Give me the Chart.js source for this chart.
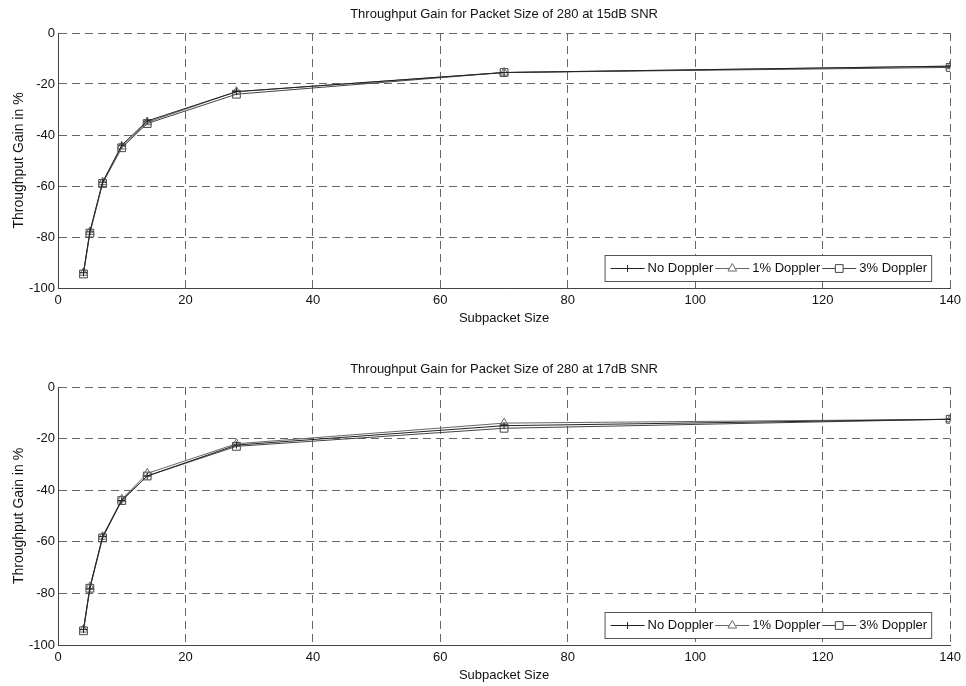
<!DOCTYPE html>
<html>
<head>
<meta charset="utf-8">
<title>Throughput Gain</title>
<script src="https://cdn.jsdelivr.net/npm/chart.js@4.4.1/dist/chart.umd.min.js"></script>
<style>
  body { margin: 0; background: #fff; }
  .panel { position: absolute; left: 0; width: 966px; height: 343px; }
  #top { top: 0; }
  #bottom { top: 343px; }
</style>
</head>
<body>
<div class="panel" id="top"><canvas id="chart15"></canvas></div>
<div class="panel" id="bottom"><canvas id="chart17"></canvas></div>
<script>
const subpacketSizes = [4, 5, 7, 10, 14, 28, 70, 140];
const xTicks = [0, 20, 40, 60, 80, 100, 120, 140];
const yTicks = [-100, -80, -60, -40, -20, 0];

// 15dB SNR
const noDoppler15 = [-94, -78, -58.5, -44, -34.5, -23, -15.5, -13];
const doppler1_15 = [-94, -78, -58.5, -44.5, -35, -23, -15.5, -13];
const doppler3_15 = [-94.5, -78.5, -59, -45, -35.5, -24, -15.5, -13.5];

// 17dB SNR
const noDoppler17 = [-94, -78, -58, -44, -34.5, -22.5, -15, -12.5];
const doppler1_17 = [-94, -77.5, -58, -43.5, -33.5, -22, -14, -12.5];
const doppler3_17 = [-94.5, -78, -58.5, -44, -34.5, -23, -16, -12.5];

const seriesLabels = ["No Doppler", "1% Doppler", "3% Doppler"];

const FONT = "'Liberation Sans', Arial, sans-serif";

function pts(ys) {
    return subpacketSizes.map((x, i) => ({ x: x, y: ys[i] }));
}

// legend box drawn inside the plot, lower right
const boxLegend = {
    id: "boxLegend",
    afterDraw(chart) {
        const ctx = chart.ctx;
        const area = chart.chartArea;
        const sets = chart.data.datasets;
        ctx.save();
        ctx.font = "13px " + FONT;
        const sample = 34;
        let w = 8;
        sets.forEach(ds => { w += sample + 3 + ctx.measureText(ds.label).width + 2; });
        const h = 26;
        const right = area.right - 19;
        const bottom = area.bottom - 7;
        const left = right - w;
        const top = bottom - h;
        ctx.fillStyle = "#fff";
        ctx.fillRect(left, top, w, h);
        ctx.strokeStyle = "#555";
        ctx.lineWidth = 1;
        ctx.strokeRect(left + 0.5, top + 0.5, w, h);
        const cy = top + h / 2 + 0.5;
        let x = left + 6;
        sets.forEach(ds => {
            ctx.strokeStyle = ds.borderColor;
            ctx.beginPath();
            ctx.moveTo(x, cy);
            ctx.lineTo(x + sample, cy);
            ctx.stroke();
            ctx.fillStyle = "#fff";
            Chart.helpers.drawPoint(ctx, {
                pointStyle: ds.pointStyle,
                radius: ds.pointRadius,
                borderWidth: 1
            }, x + sample / 2, cy);
            ctx.fillStyle = "#111";
            ctx.textBaseline = "middle";
            ctx.textAlign = "left";
            ctx.fillText(ds.label, x + sample + 3, cy);
            x += sample + 3 + ctx.measureText(ds.label).width + 2;
        });
        ctx.restore();
    }
};

function makeChart(id, title, series, opts) {
    const styles = [
        { color: "#222", point: "cross", r: 3.5 },
        { color: "#666", point: "triangle", r: 5 },
        { color: "#444", point: "rect", r: 5.5 }
    ];
    return new Chart(document.getElementById(id), {
        type: "line",
        data: {
            datasets: series.map((ys, i) => ({
                label: seriesLabels[i],
                data: pts(ys),
                borderColor: styles[i].color,
                borderWidth: 1,
                pointStyle: styles[i].point,
                pointRadius: styles[i].r,
                pointBorderColor: styles[i].color,
                pointBorderWidth: 1,
                pointBackgroundColor: "rgba(0,0,0,0)",
                tension: 0
            }))
        },
        options: {
            responsive: true,
            maintainAspectRatio: false,
            animation: false,
            events: [],
            layout: { padding: { left: 0, right: 15, top: 0, bottom: 0 } },
            plugins: {
                legend: { display: false },
                tooltip: { enabled: false },
                title: {
                    display: true,
                    text: title,
                    fullSize: false,
                    color: "#111",
                    font: { family: FONT, size: 13, weight: "normal" },
                    padding: opts.titlePad
                }
            },
            scales: {
                x: {
                    type: "linear",
                    min: 0,
                    max: 140,
                    afterBuildTicks: s => { s.ticks = xTicks.map(v => ({ value: v })); },
                    afterFit: s => { s.height = opts.xHeight; },
                    grid: { color: "#666", lineWidth: 1, drawTicks: false },
                    // dash here applies to the grid lines; the axis line stays solid
                    border: { display: true, color: "#444", width: 1, dash: [8, 5] },
                    ticks: {
                        color: "#111",
                        padding: 5,
                        maxRotation: 0,
                        font: { family: FONT, size: 13 }
                    },
                    title: {
                        display: true,
                        text: "Subpacket Size",
                        color: "#111",
                        font: { family: FONT, size: 13 },
                        padding: { top: 0, bottom: opts.xTitleBottom }
                    }
                },
                y: {
                    type: "linear",
                    min: -100,
                    max: 0,
                    afterBuildTicks: s => { s.ticks = yTicks.map(v => ({ value: v })); },
                    afterFit: s => { s.width = 58; },
                    grid: { color: "#666", lineWidth: 1, drawTicks: false },
                    border: { display: true, color: "#444", width: 1, dash: [8, 5] },
                    ticks: {
                        color: "#111",
                        padding: 3,
                        font: { family: FONT, size: 13 }
                    },
                    title: {
                        display: true,
                        text: "Throughput Gain in %",
                        color: "#111",
                        font: { family: FONT, size: 14 },
                        padding: { top: 11, bottom: 0 }
                    }
                }
            }
        },
        plugins: [boxLegend]
    });
}

makeChart("chart15", "Throughput Gain for Packet Size of 280 at 15dB SNR",
    [noDoppler15, doppler1_15, doppler3_15],
    { titlePad: { top: 7, bottom: 10.4 }, xHeight: 55, xTitleBottom: 17 });

makeChart("chart17", "Throughput Gain for Packet Size of 280 at 17dB SNR",
    [noDoppler17, doppler1_17, doppler3_17],
    { titlePad: { top: 19, bottom: 9.4 }, xHeight: 41, xTitleBottom: 3 });
</script>
</body>
</html>
